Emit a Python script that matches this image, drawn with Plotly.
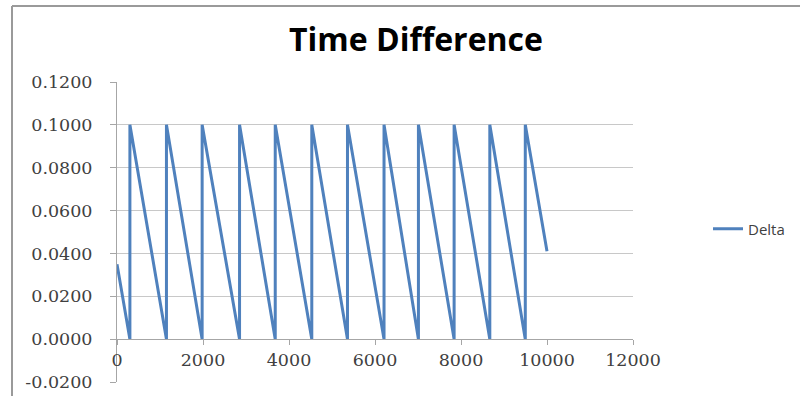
import plotly.graph_objects as go

# -- sawtooth readings (time, delta)
x_vals = [0, 300, 300, 1150, 1150, 1980, 1980, 2850, 2850, 3680, 3680, 4530, 4530,
          5360, 5360, 6210, 6210, 7010, 7010, 7840, 7840, 8670, 8670, 9495, 9495, 10000]
y_vals = [0.035, 0.0, 0.1, 0.0, 0.1, 0.0, 0.1, 0.0, 0.1, 0.0, 0.1, 0.0, 0.1,
          0.0, 0.1, 0.0, 0.1, 0.0, 0.1, 0.0, 0.1, 0.0, 0.1, 0.0, 0.1, 0.041]

x_ticks = [0, 2000, 4000, 6000, 8000, 10000, 12000]
x_tick_labels = ["0", "2000", "4000", "6000", "8000", "10000", "12000"]
y_ticks = [-0.02, 0.0, 0.02, 0.04, 0.06, 0.08, 0.10, 0.12]
y_tick_labels = ["-0.0200", "0.0000", "0.0200", "0.0400", "0.0600", "0.0800", "0.1000", "0.1200"]

W, H = 800, 396
L, R, T, B = 117, 167, 82, 14
pw, ph = W - L - R, H - T - B


def px(x):
    return (x - L) / pw


def py(y):
    return (H - B - y) / ph


fig = go.Figure()
fig.add_trace(go.Scatter(x=x_vals, y=y_vals, mode='lines', name='Delta',
                         line=dict(color='#4F81BD', width=3)))

tick_font = dict(family='DejaVu Serif', size=17.5, color='#404040')

fig.update_layout(
    width=W, height=H,
    margin=dict(l=L, r=R, t=T, b=B, autoexpand=False),
    plot_bgcolor='white', paper_bgcolor='white',
    title=dict(text='<b>Time Difference</b>', x=416 / W, xanchor='center',
               y=1 - 40 / H, yanchor='middle',
               font=dict(family='Open Sans', size=32, color='black')),
    showlegend=True,
    legend=dict(x=px(708), xanchor='left', y=py(229), yanchor='middle',
                font=dict(family='Open Sans', size=15, color='#404040'),
                bgcolor='rgba(0,0,0,0)'),
    xaxis=dict(range=[0, 12000], tickvals=x_ticks, ticktext=x_tick_labels,
               showgrid=False, zeroline=False, automargin=False,
               anchor='free', position=0.02 / 0.14,
               showline=True, linecolor='#a6a6a6', linewidth=1,
               ticks='outside', ticklen=5, tickcolor='#a6a6a6',
               tickfont=tick_font),
    yaxis=dict(range=[-0.02, 0.12], tickvals=y_ticks, ticktext=y_tick_labels,
               showgrid=True, gridcolor='#c8c8c8', gridwidth=1, zeroline=False,
               automargin=False,
               showline=True, linecolor='#a6a6a6', linewidth=1,
               ticks='outside', ticklen=6, tickcolor='#a6a6a6',
               ticklabelstandoff=14, tickfont=tick_font),
    shapes=[
        dict(type='line', xref='paper', yref='paper', x0=px(12), x1=px(12),
             y0=py(6), y1=py(H + 5), line=dict(color='#9a9a9a', width=2)),
        dict(type='line', xref='paper', yref='paper', x0=px(12), x1=px(W + 5),
             y0=py(6), y1=py(6), line=dict(color='#9a9a9a', width=2)),
    ],
)

# page has a default 8px body margin; drop it so the figure sits at 0,0
fig.write_html("out.html", config={'displayModeBar': False},
               post_script="document.body.style.margin='0';")
